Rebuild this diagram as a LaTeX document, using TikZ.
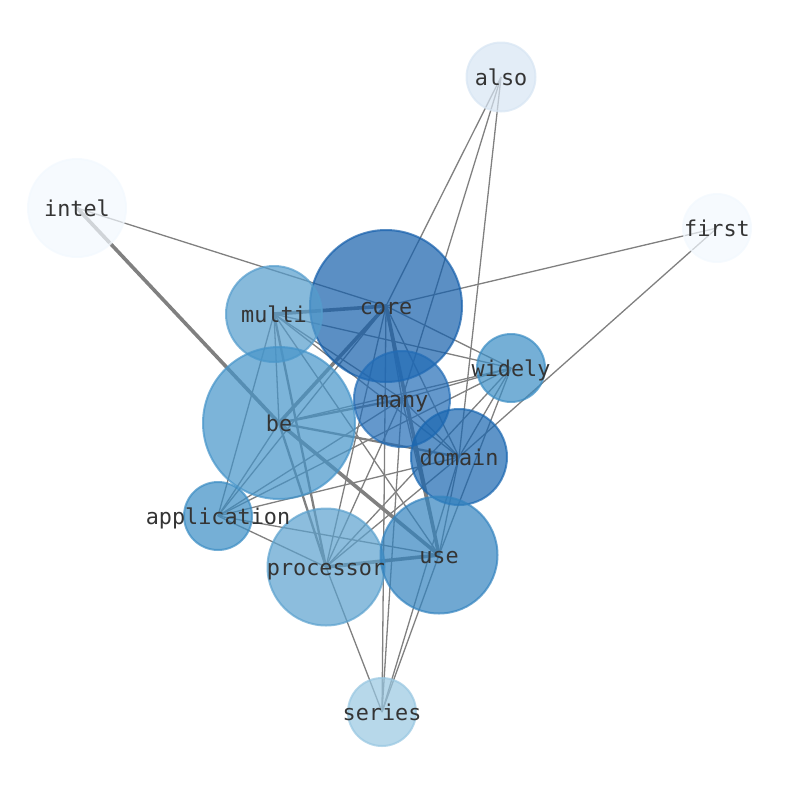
\documentclass[tikz,border=0pt]{standalone}
\usepackage{fontspec}
\newfontfamily\monofont{DejaVu Sans Mono}
\definecolor{cCore}{RGB}{21,95,171}
\definecolor{cDomain}{RGB}{25,102,176}
\definecolor{cMany}{RGB}{34,108,182}
\definecolor{cUse}{RGB}{51,131,191}
\definecolor{cWidely}{RGB}{59,141,196}
\definecolor{cApp}{RGB}{59,141,196}
\definecolor{cBe}{RGB}{69,148,201}
\definecolor{cMulti}{RGB}{84,156,204}
\definecolor{cProc}{RGB}{91,161,206}
\definecolor{cSeries}{RGB}{152,199,225}
\definecolor{cAlso}{RGB}{215,229,243}
\definecolor{cPale}{RGB}{242,248,254}
\definecolor{edgegray}{RGB}{128,128,128}
\definecolor{labelgray}{RGB}{52,52,52}
\begin{document}
\begin{tikzpicture}[x=1pt,y=-1pt,
  wnode/.style={circle, inner sep=0pt, minimum size=#1, line width=2pt, draw opacity=0.7, fill opacity=0.7},
  wlabel/.style={inner sep=0pt, anchor=base, yshift=-8.3pt, text=labelgray, font=\monofont\fontsize{21.8}{24}\selectfont},
  ethin/.style={draw=edgegray, line width=1.3pt},
  emed/.style={draw=edgegray, line width=2.3pt},
  ethick/.style={draw=edgegray, line width=3.6pt}]
\useasboundingbox (0,0) rectangle (794,790);
% centres
\coordinate (also) at (501,77);
\coordinate (intel) at (77,208);
\coordinate (first) at (717,228);
\coordinate (core) at (386,306);
\coordinate (multi) at (274,314);
\coordinate (widely) at (511,368);
\coordinate (many) at (402,399);
\coordinate (be) at (279,423);
\coordinate (domain) at (459,457);
\coordinate (application) at (218,516);
\coordinate (use) at (439,555);
\coordinate (processor) at (326,567);
\coordinate (series) at (382,712);
% edges
\draw[ethin] (intel) -- (core);
\draw[ethick] (intel) -- (be);
\draw[ethin] (first) -- (core);
\draw[ethin] (first) -- (domain);
\draw[ethin] (also) -- (core);
\draw[ethin] (also) -- (many);
\draw[ethin] (also) -- (domain);
\draw[ethick] (core) -- (multi);
\draw[ethick] (core) -- (be);
\draw[ethick] (core) -- (use);
\draw[ethin] (core) -- (processor);
\draw[ethin] (core) -- (series);
\draw[ethin] (core) -- (domain);
\draw[ethin] (core) -- (widely);
\draw[ethin] (core) -- (many);
\draw[ethin] (core) -- (application);
\draw[ethin] (multi) -- (widely);
\draw[ethin] (multi) -- (many);
\draw[ethin] (multi) -- (domain);
\draw[ethin] (multi) -- (be);
\draw[ethin] (multi) -- (application);
\draw[emed] (multi) -- (processor);
\draw[ethin] (multi) -- (use);
\draw[emed] (be) -- (many);
\draw[emed] (be) -- (domain);
\draw[ethick] (be) -- (use);
\draw[emed] (be) -- (processor);
\draw[ethin] (be) -- (application);
\draw[ethin] (be) -- (widely);
\draw[ethin] (many) -- (domain);
\draw[ethin] (many) -- (application);
\draw[ethin] (many) -- (processor);
\draw[ethin] (many) -- (use);
\draw[ethin] (many) -- (widely);
\draw[ethin] (widely) -- (application);
\draw[ethin] (widely) -- (processor);
\draw[ethin] (widely) -- (domain);
\draw[ethin] (widely) -- (use);
\draw[ethin] (domain) -- (application);
\draw[ethin] (domain) -- (processor);
\draw[ethin] (domain) -- (use);
\draw[ethin] (application) -- (use);
\draw[ethin] (application) -- (processor);
\draw[ethick] (processor) -- (use);
\draw[ethin] (processor) -- (series);
\draw[ethin] (series) -- (many);
\draw[ethin] (series) -- (domain);
\draw[ethin] (series) -- (use);
% nodes
\node[wnode=152pt, fill=cCore, draw=cCore] (n-core) at (core) {};
\node[wnode=96pt, fill=cMulti, draw=cMulti] (n-multi) at (multi) {};
\node[wnode=152pt, fill=cBe, draw=cBe] (n-be) at (be) {};
\node[wnode=96pt, fill=cMany, draw=cMany] (n-many) at (many) {};
\node[wnode=96pt, fill=cDomain, draw=cDomain] (n-domain) at (domain) {};
\node[wnode=68pt, fill=cWidely, draw=cWidely] (n-widely) at (widely) {};
\node[wnode=68pt, fill=cApp, draw=cApp] (n-application) at (application) {};
\node[wnode=117pt, fill=cProc, draw=cProc] (n-processor) at (processor) {};
\node[wnode=117pt, fill=cUse, draw=cUse] (n-use) at (use) {};
\node[wnode=68pt, fill=cSeries, draw=cSeries] (n-series) at (series) {};
\node[wnode=69pt, fill=cAlso, draw=cAlso] (n-also) at (also) {};
\node[wnode=98pt, fill=cPale, draw=cPale] (n-intel) at (intel) {};
\node[wnode=68pt, fill=cPale, draw=cPale] (n-first) at (first) {};
% labels
\node[wlabel] (l-core) at (core) {core};
\node[wlabel] (l-multi) at (multi) {multi};
\node[wlabel] (l-be) at (be) {be};
\node[wlabel] (l-many) at (many) {many};
\node[wlabel] (l-domain) at (domain) {domain};
\node[wlabel] (l-widely) at (widely) {widely};
\node[wlabel] (l-application) at (application) {application};
\node[wlabel] (l-processor) at (processor) {processor};
\node[wlabel] (l-use) at (use) {use};
\node[wlabel] (l-series) at (series) {series};
\node[wlabel] (l-also) at (also) {also};
\node[wlabel] (l-intel) at (intel) {intel};
\node[wlabel] (l-first) at (first) {first};
\end{tikzpicture}
\end{document}
